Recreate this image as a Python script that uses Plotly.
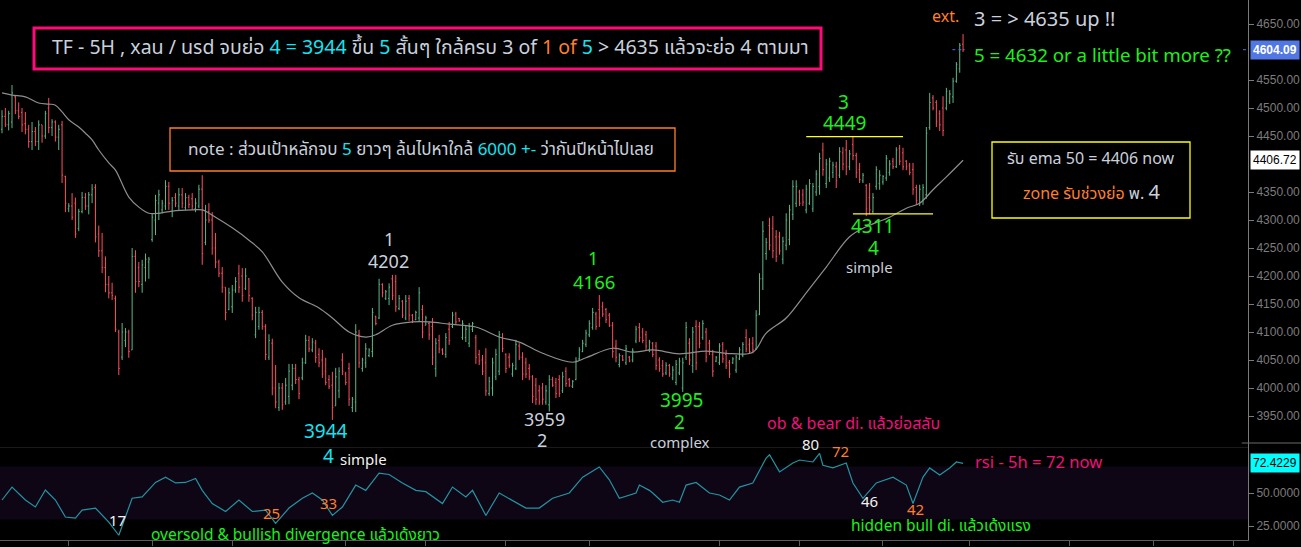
import plotly.graph_objects as go

# ---------------- data ----------------
opens = [4462,4485,4470,4475,4520,4495,4492,4472,4462,4440,4458,4440,4470,4450,4500,4465,4475,4448,4470,4378,
4320,4325,4330,4285,4315,4340,4325,4345,4358,4275,4245,4215,4185,4170,4160,4100,4055,4085,4100,4068,
4235,4215,4185,4215,4225,4265,4300,4330,4318,4325,4360,4315,4340,4325,4345,4322,4340,4338,4320,4325,
4355,4260,4315,4300,4250,4225,4205,4180,4140,4145,4175,4205,4200,4178,4195,4160,4095,4110,4135,4110,
4055,4080,4000,3965,4000,3975,3985,4005,4035,4015,4018,4045,4085,4068,4080,4060,4050,4030,4015,4005,
3968,3995,4050,4025,4035,3965,3975,4095,4035,4045,4058,4065,4128,4125,4185,4160,4160,4195,4190,4142,
4155,4125,4160,4130,4122,4125,4140,4112,4115,4110,4035,4085,4068,4060,4105,4110,4132,4124,4090,4090,
4080,4105,4090,4060,4050,4045,3990,4000,4020,4030,4090,4060,4055,4025,4035,4075,4055,4045,4035,4020,
4005,3995,4000,3975,3970,4015,4010,4015,3995,4030,4015,4003,4015,4052,4065,4078,4095,4108,4132,4140,
4145,4140,4130,4112,4075,4042,4057,4045,4055,4050,4084,4108,4100,4095,4068,4080,4075,4050,4040,4027,
4040,4018,4010,4027,4000,4055,4080,4040,4110,4110,4090,4100,4080,4060,4048,4045,4078,4060,4045,4045,
4032,4052,4058,4090,4078,4080,4070,4132,4195,4240,4290,4285,4270,4270,4230,4255,4265,4310,4330,4350,
4345,4318,4330,4320,4350,4360,4425,4365,4375,4385,4395,4380,4420,4425,4395,4435,4415,4390,4370,4362,
4340,4315,4360,4365,4368,4375,4385,4405,4395,4428,4420,4405,4398,4390,4358,4330,4335,4345,4465,4518,
4510,4490,4500,4500,4512,4520,4548,4570,4614]
highs = [4496,4500,4495,4541,4523,4510,4500,4493,4470,4475,4466,4478,4470,4495,4518,4480,4478,4470,4477,4379,
4330,4348,4340,4320,4350,4348,4350,4364,4364,4290,4277,4235,4200,4188,4165,4104,4116,4107,4104,4250,
4246,4225,4229,4240,4234,4312,4345,4354,4336,4371,4368,4341,4348,4357,4357,4348,4345,4348,4339,4363,
4380,4327,4330,4314,4277,4229,4216,4180,4179,4184,4198,4220,4214,4214,4196,4162,4145,4145,4139,4114,
4096,4088,4041,4009,4009,4018,4043,4043,4043,4020,4054,4095,4093,4089,4086,4071,4068,4054,4023,4029,
4036,4037,4062,4029,4045,3984,4114,4104,4054,4080,4071,4143,4129,4195,4187,4175,4187,4202,4202,4166,
4157,4166,4166,4132,4138,4180,4148,4129,4118,4125,4089,4095,4071,4098,4118,4136,4136,4125,4121,4112,
4116,4118,4095,4068,4059,4071,4020,4054,4070,4102,4098,4062,4062,4045,4086,4080,4064,4054,4043,4023,
4018,4005,4009,4005,4023,4020,4018,4023,4029,4037,4018,4014,4055,4073,4086,4104,4121,4143,4136,4166,
4154,4143,4134,4118,4086,4062,4059,4077,4057,4071,4111,4116,4107,4102,4086,4082,4082,4055,4050,4046,
4043,4039,4050,4054,4054,4118,4089,4109,4121,4118,4121,4107,4086,4068,4057,4080,4082,4068,4050,4055,
4059,4073,4082,4105,4089,4091,4139,4205,4298,4268,4304,4307,4282,4279,4270,4312,4327,4371,4371,4354,
4355,4363,4373,4366,4389,4420,4438,4409,4411,4404,4404,4430,4430,4443,4425,4450,4420,4402,4384,4364,
4366,4348,4396,4389,4380,4416,4407,4411,4430,4434,4429,4407,4402,4402,4363,4363,4364,4466,4527,4523,
4514,4496,4521,4536,4532,4554,4582,4616,4632]
lows = [4455,4466,4460,4464,4489,4480,4457,4453,4429,4425,4432,4425,4438,4445,4455,4450,4440,4425,4366,4314,
4314,4300,4268,4280,4312,4318,4310,4330,4260,4234,4205,4171,4160,4157,4100,4023,4050,4073,4054,4068,
4170,4180,4170,4190,4195,4261,4273,4300,4312,4318,4318,4305,4323,4318,4321,4318,4321,4318,4314,4321,
4220,4255,4295,4238,4214,4198,4170,4121,4139,4134,4170,4170,4154,4175,4154,4121,4089,4104,4104,4050,
4050,3987,3964,3959,3961,3970,3971,3996,4007,3980,4014,4043,4064,4064,4045,4037,4018,4005,3998,3943,
3968,3982,4023,4005,3968,3957,3957,4036,4029,4036,4055,4055,4112,4123,4162,4157,4148,4157,4136,4139,
4125,4121,4120,4116,4121,4118,4089,4112,4086,4041,4020,4062,4059,4054,4077,4107,4114,4118,4086,4082,
4073,4100,4043,4041,4023,3986,3986,3986,4014,4023,4064,4027,4036,4020,4032,4050,4014,4018,4014,3973,
3970,3970,3970,3970,3958,4002,3982,3984,3991,4002,4002,4000,4014,4050,4064,4073,4091,4104,4104,4109,
4127,4116,4109,4054,4046,4037,4048,4041,4046,4046,4080,4082,4080,4068,4064,4055,4032,4029,4020,4023,
4020,4014,4005,4023,3993,4050,4041,4027,4032,4071,4086,4046,4059,4020,4046,4041,4045,4034,4018,4043,
4027,4050,4055,4064,4062,4062,4068,4130,4175,4229,4246,4232,4225,4238,4221,4246,4255,4300,4323,4325,
4325,4312,4327,4314,4343,4345,4379,4357,4368,4375,4357,4375,4389,4380,4389,4407,4375,4366,4366,4307,
4310,4311,4354,4354,4363,4370,4379,4391,4393,4398,4389,4389,4380,4345,4327,4325,4327,4338,4461,4496,
4466,4459,4450,4496,4507,4509,4545,4563,4600]
closes = [4485,4470,4490,4527,4495,4485,4470,4462,4440,4458,4440,4470,4450,4490,4465,4475,4448,4462,4380,4330,
4325,4305,4275,4315,4340,4325,4345,4355,4270,4245,4215,4185,4170,4165,4105,4035,4100,4100,4065,4235,
4190,4190,4220,4230,4230,4305,4335,4345,4330,4360,4330,4335,4330,4345,4330,4340,4328,4325,4330,4355,
4240,4300,4300,4250,4225,4205,4180,4135,4170,4175,4190,4180,4165,4200,4165,4130,4135,4135,4110,4060,
4085,4000,3975,4000,3970,4005,4030,4035,4015,3990,4045,4085,4070,4082,4055,4045,4025,4010,4003,3965,
4020,4030,4030,4010,3980,3980,4100,4045,4050,4070,4068,4135,4115,4185,4170,4172,4180,4165,4145,4160,
4130,4155,4130,4120,4135,4170,4100,4125,4095,4055,4080,4070,4062,4090,4085,4130,4118,4120,4115,4105,
4110,4115,4055,4048,4030,3995,4012,4045,4060,4095,4070,4035,4040,4040,4078,4055,4025,4025,4020,3985,
3980,3975,3980,3995,4015,4005,3990,3990,4020,4008,4005,4012,4048,4068,4080,4098,4115,4135,4110,4125,
4132,4122,4112,4065,4055,4058,4050,4070,4048,4066,4105,4090,4085,4075,4082,4060,4040,4035,4025,4040,
4025,4032,4042,4048,4045,4108,4050,4100,4045,4080,4115,4055,4065,4030,4055,4075,4052,4040,4025,4052,
4055,4068,4078,4070,4065,4068,4130,4195,4280,4260,4255,4245,4235,4245,4262,4300,4318,4360,4360,4330,
4332,4355,4365,4360,4382,4410,4390,4400,4405,4398,4370,4422,4400,4395,4418,4415,4385,4372,4380,4320,
4318,4340,4390,4380,4378,4410,4400,4395,4425,4405,4395,4395,4385,4355,4335,4355,4358,4455,4510,4500,
4475,4470,4460,4530,4525,4548,4578,4612,4604.09]
bars = list(range(len(closes)))

ema_idx = [0,3,7,11,14,16,18,20,23,25,27,29,32,34,38,41,44,47,51,57,
           60,64,69,74,78,84,89,95,99,104,109,112,117,123,128,134,142,149,155,162,
           171,175,183,189,195,203,211,217,225,229,235,241,247,254,259,266,271,275,279,283,288]
ema_val = [4527,4523,4520,4509,4507,4505,4493,4479,4466,4455,4443,4425,4402,4389,4341,4323,4312,4312,4316,4318,
           4318,4305,4286,4264,4243,4189,4161,4143,4125,4100,4091,4095,4112,4118,4118,4114,4109,4091,4082,4062,
           4046,4054,4071,4064,4068,4061,4066,4062,4064,4098,4125,4170,4216,4270,4288,4305,4321,4330,4354,4377,4406.72]

rsi_idx = [0,3,7,10,13,16,19,22,24,28,32,35,39,42,46,49,52,55,58,60,
           63,67,71,75,79,82,86,90,93,96,99,102,106,109,113,116,120,124,127,132,
           135,139,141,145,149,154,157,161,165,170,174,179,182,185,190,191,194,195,198,201,
           203,205,208,212,215,218,221,225,227,229,230,233,237,239,243,245,246,249,253,255,
           258,262,267,271,273,276,278,281,284,286,288]
rsi_val = [44.7,54.5,44.7,39.4,52.3,44.7,31.8,31,37,38.6,28,18,46,47,58,62,57.6,58,61,52,
           42,36,44.7,36,37,27,38.6,46,50,44.7,33,39.4,56,52,65,64,57.6,52,51,42,
           54.5,47,52,33,50,43,38.6,38.6,46,50,62,69.7,60,46,50,56,52,50,43,44.7,
           43,56,58,50,48.5,44.7,54.5,57.6,67,76.5,79,66,72.7,75,73.5,80,71,69,72.7,57.6,
           46,57.6,62,56,42,62,69,63.6,69,73.5,72.42]

# 4600 and 4400 are hidden behind the value tags in the reference
price_ticks = [3950, 4000, 4050, 4100, 4150, 4200, 4250, 4300, 4350, 4450, 4500, 4550, 4650]
rsi_ticks = [25, 50]
time_ticks = [20, 45, 69, 103, 127, 151, 176, 215, 239, 264, 290, 320, 345, 369]

last_price = closes[-1]
last_ema = ema_val[-1]
last_rsi = rsi_val[-1]

# ---------------- layout helpers ----------------
W, H = 1301, 547
MR, MB = 53, 7
PW, PH = W - MR, H - MB
SPLIT = 443
FONT = "Tahoma, 'Noto Sans Thai', 'Noto Sans', 'DejaVu Sans', sans-serif"

GRAY = "#c9d1de"
GREEN = "#1cf01c"
CYAN = "#14e4f2"
ORANGE = "#ff7f2a"
MAGENTA = "#f0107c"
WHITE = "#f2f2f2"

def fx(p):
    return p / PW

def fy(p):
    return (PH - p) / PH

def sp(t, c):
    return f"<span style='color:{c}'>{t}</span>"

annotations = []

def note(text, x, y, color, size, xanchor="center"):
    annotations.append(dict(text=text, x=fx(x), y=fy(y), xref="paper", yref="paper",
                            showarrow=False, xanchor=xanchor, yanchor="middle",
                            font=dict(color=color, size=size, family=FONT)))

shapes = []

def rect(x0, y0, x1, y1, color, width):
    shapes.append(dict(type="rect", xref="paper", yref="paper", x0=fx(x0), x1=fx(x1),
                       y0=fy(y1), y1=fy(y0), line=dict(color=color, width=width)))

# ---------------- figure ----------------
fig = go.Figure()
fig.add_trace(go.Ohlc(x=bars, open=opens, high=highs, low=lows, close=closes,
                      increasing=dict(line=dict(color="#5bb889", width=1)),
                      decreasing=dict(line=dict(color="#ff4f60", width=1)),
                      tickwidth=0.3, xaxis="x", yaxis="y", showlegend=False, hoverinfo="skip"))
fig.add_trace(go.Scatter(x=ema_idx, y=ema_val, mode="lines", line=dict(color="#8e8e8e", width=1.2, shape="spline"),
                         xaxis="x", yaxis="y", showlegend=False, hoverinfo="skip"))
fig.add_trace(go.Scatter(x=rsi_idx, y=rsi_val, mode="lines", line=dict(color="#2493a3", width=1.2),
                         xaxis="x2", yaxis="y2", showlegend=False, hoverinfo="skip"))

main_lo = 4650 - (SPLIT - 24) / 0.56
main_hi = 4650 + 24 / 0.56
rsi_lo = 50 - (PH - 493) / 1.32
rsi_hi = 50 + (493 - SPLIT) / 1.32
xr = [-0.6, (PW - 2) / 3.337]
dom = (PH - SPLIT) / PH

# RSI 30-70 band
shapes.append(dict(type="rect", xref="paper", yref="y2", x0=0, x1=1, y0=30, y1=70,
                   fillcolor="#0e0614", line=dict(width=0), layer="below"))
shapes.append(dict(type="line", xref="paper", yref="paper", x0=0, x1=1, y0=fy(447.5), y1=fy(447.5),
                   line=dict(color="#1a1a1a", width=1)))
shapes.append(dict(type="line", xref="paper", yref="paper", x0=0.995, x1=1.045, y0=fy(SPLIT), y1=fy(SPLIT),
                   line=dict(color="#6a6a6a", width=1)))
# last price dashed marker
shapes.append(dict(type="line", xref="x", yref="y", x0=bars[-1] - 3.2, x1=bars[-1] + 0.6, y0=last_price, y1=last_price,
                   line=dict(color="#4a72e6", width=1, dash="dot")))
shapes.append(dict(type="line", xref="paper", yref="y", x0=0.996, x1=1.0, y0=last_price, y1=last_price,
                   line=dict(color="#4a72e6", width=1, dash="dot")))
# wave-3 high and wave-4 low lines
shapes.append(dict(type="line", xref="x", yref="y", x0=241, x1=270, y0=4449, y1=4449,
                   line=dict(color="#ffff20", width=1.2)))
shapes.append(dict(type="line", xref="x", yref="y", x0=255, x1=279, y0=4311, y1=4311,
                   line=dict(color="#ffff20", width=1.2)))

# boxes
rect(34, 28, 821, 69, "#ff0a78", 3)
rect(170, 128, 675, 171, "#ff7f27", 1.3)
rect(992, 142, 1190, 218, "#ffff00", 1.3)

note("TF - 5H , xau / usd จบย่อ " + sp("4 = 3944", CYAN) + " ขึ้น " + sp("5", CYAN) +
     " สั้นๆ ใกล้ครบ 3 of " + sp("1 of", ORANGE) + " " + sp("5", CYAN) +
     " &gt; 4635 แล้วจะย่อ 4 ตามมา", 50, 48, GRAY, 19.5, "left")
note("note : ส่วนเป้าหลักจบ " + sp("5", CYAN) + " ยาวๆ ล้นไปหาใกล้ " + sp("6000 +-", CYAN) +
     " ว่ากันปีหน้าไปเลย", 186, 150, GRAY, 17, "left")
note("รับ ema 50 = 4406 now", 1091, 159, GRAY, 16)
note(sp("zone รับช่วงย่อ ", ORANGE) + "พ. <span style='font-size:20px'>4</span>", 1091, 193, GRAY, 16)

note("ext.", 945, 17, ORANGE, 16)
note("3 = &gt; 4635 up !!", 972, 20, GRAY, 20, "left")
note("5 = 4632 or a little bit more ??", 972, 56, GREEN, 18.7, "left")

note("3", 843, 103, GREEN, 19)
note("4449", 844, 124, GREEN, 19)
note("4311", 872, 227, GREEN, 19)
note("4", 873, 249, GREEN, 19)
note("simple", 869, 268, GRAY, 15)
note("1", 389, 240, GRAY, 18)
note("4202", 388, 262, GRAY, 18)
note("1", 593, 259, GREEN, 18)
note("4166", 594, 283, GREEN, 18.5)
note("3944", 326, 432, CYAN, 19)
note("4", 328, 457, CYAN, 19)
note("simple", 363, 460, WHITE, 15)
note("3959", 544, 420, GRAY, 18)
note("2", 542, 441, GRAY, 18)
note("3995", 682, 401, GREEN, 19)
note("2", 679, 423, GREEN, 19)
note("complex", 680, 443, GRAY, 15)

note("ob &amp; bear di. แล้วย่อสลับ", 765, 424, MAGENTA, 16, "left")
note("80", 810, 445, WHITE, 15)
note("72", 840, 452, ORANGE, 15)
note("rsi - 5h = 72 now", 973, 462, MAGENTA, 16.6, "left")
note("46", 869, 502, WHITE, 15)
note("42", 916, 510, ORANGE, 15)
note("hidden bull di. แล้วเด้งแรง", 849, 526, GREEN, 15.5, "left")
note("17", 117, 521, WHITE, 15)
note("25", 271, 514, ORANGE, 15)
note("33", 328, 504, ORANGE, 15)
note("oversold &amp; bullish divergence แล้วเด้งยาว", 149, 535, GREEN, 15.5, "left")

# right-axis value tags
annotations.append(dict(text=f"<b>{last_price:.2f}</b>", x=fx(1250), y=last_price, xref="paper", yref="y",
                        xanchor="left", yanchor="middle", showarrow=False, bgcolor="#5077e4", borderpad=2,
                        font=dict(color="white", size=12, family="Liberation Sans")))
annotations.append(dict(text=f"{last_ema:.2f}", x=fx(1250), y=last_ema, xref="paper", yref="y",
                        xanchor="left", yanchor="middle", showarrow=False, bgcolor="white", borderpad=2,
                        font=dict(color="black", size=12, family="Liberation Sans")))
annotations.append(dict(text="72.4229", x=fx(1250), y=last_rsi, xref="paper", yref="y2",
                        xanchor="left", yanchor="middle", showarrow=False, bgcolor="#00ffff", borderpad=2,
                        font=dict(color="black", size=12, family="Liberation Sans")))

axis_font = dict(color="#7c7c7c", size=12, family="Liberation Sans")
fig.update_layout(
    width=W, height=H, margin=dict(l=0, r=MR, t=0, b=MB),
    paper_bgcolor="black", plot_bgcolor="black", showlegend=False,
    xaxis=dict(domain=[0, 1], range=xr, anchor="y", showgrid=False, zeroline=False,
               showticklabels=False, rangeslider=dict(visible=False), showline=False),
    xaxis2=dict(domain=[0, 1], range=xr, anchor="y2", matches="x", showgrid=False, zeroline=False,
                showticklabels=False, showline=True, linecolor="#5c5c5c", ticks="outside",
                tickvals=time_ticks, ticklen=5, tickcolor="#5c5c5c"),
    yaxis=dict(domain=[dom, 1], range=[main_lo, main_hi], side="right", anchor="x", showgrid=False,
               zeroline=False, showline=True, linecolor="#7a7a7a", ticks="outside", ticklen=5,
               tickcolor="#7a7a7a", tickvals=price_ticks, ticktext=[f"{v:.2f}" for v in price_ticks],
               tickfont=axis_font),
    yaxis2=dict(domain=[0, dom], range=[rsi_lo, rsi_hi], side="right", anchor="x2", showgrid=False,
                zeroline=False, showline=True, linecolor="#7a7a7a", ticks="outside", ticklen=5,
                tickcolor="#7a7a7a", tickvals=rsi_ticks, ticktext=[f"{v:.4f}" for v in rsi_ticks],
                tickfont=axis_font),
    shapes=shapes, annotations=annotations,
)

page_fix = ("document.body.style.margin='0';document.body.style.padding='0';"
            "document.body.style.background='black';document.body.style.overflow='hidden';"
            "document.documentElement.style.background='black';")
fig.write_html("out.html", post_script=page_fix, config={"displayModeBar": False})
